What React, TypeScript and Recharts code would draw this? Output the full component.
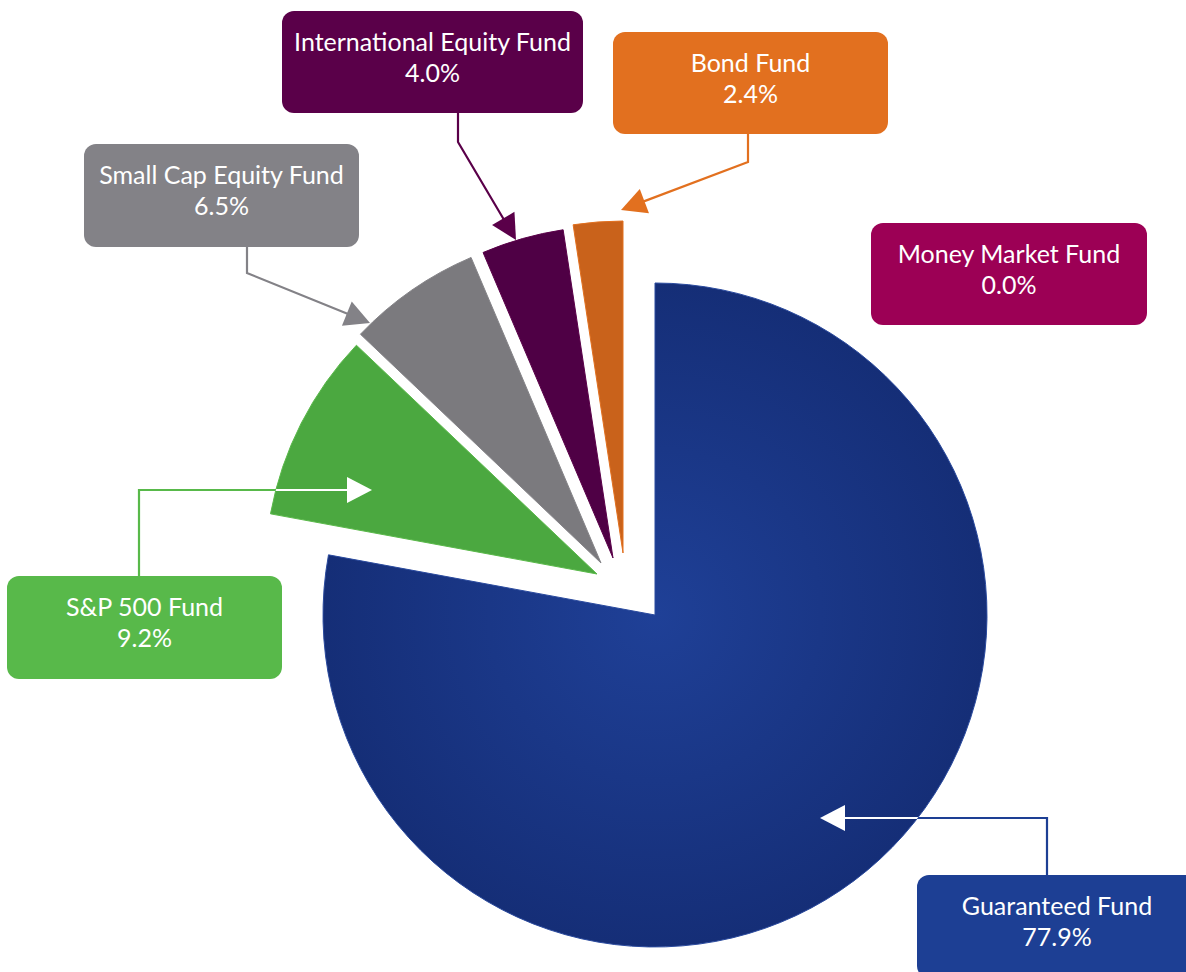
import React from 'react';
import { PieChart, Pie, Cell } from 'recharts';

// ---- data ----
const funds = [
  'Guaranteed Fund',
  'S&P 500 Fund',
  'Small Cap Equity Fund',
  'International Equity Fund',
  'Bond Fund',
  'Money Market Fund',
];
const allocations = [77.9, 9.2, 6.5, 4.0, 2.4, 0.0];

// ---- styles ----
const sliceColors = ['url(#guaranteedGrad)', '#4ba840', '#7b7a7e', '#4f0045', '#c9621b', '#9c0055'];
const sliceStrokes = ['#2a4a9e', '#5ab94a', '#858488', '#5a0049', '#e2701f', '#9c0055'];
const boxColors = ['#1d3f94', '#58b94a', '#838287', '#5a0049', '#e2701f', '#9c0055'];
const arrowColors = ['#ffffff', '#ffffff', '#838287', '#5a0049', '#e2701f', '#9c0055'];

const data = funds.map((name, i) => ({ name, value: allocations[i] }));

// ---- layout ----
const W = 1186;
const H = 972;
const CX = 655;
const CY = 615;
const R = 332;
const explode: [number, number][] = [
  [0, 0],
  [-58, -41],
  [-54, -52],
  [-42, -57],
  [-32, -62],
  [0, 0],
];
// label boxes: x, y, w, h
const boxes: [number, number, number, number][] = [
  [917, 875, 280, 103],
  [7, 576, 275, 103],
  [84, 144, 275, 103],
  [282, 11, 301, 102],
  [613, 32, 275, 102],
  [871, 223, 276, 102],
];
// connectors (last point = arrow tip); null = none
const connectors: ([number, number][] | null)[] = [
  [[1047, 875], [1047, 818], [820, 818]],
  [[139, 576], [139, 490], [372, 490]],
  [[247, 247], [247, 273], [370, 323]],
  [[458, 113], [458, 142], [516, 240]],
  [[748, 134], [748, 162], [621, 210]],
  null,
];
const clipWhite = [0, 1]; // connectors drawn white inside their slice

const FONT = 'Lato, "Open Sans", sans-serif';

function Arrow({ pts, color, clip }: { pts: [number, number][]; color: string; clip?: string }) {
  const n = pts.length;
  const [tx, ty] = pts[n - 1];
  const [px, py] = pts[n - 2];
  const len = Math.hypot(tx - px, ty - py);
  const ux = (tx - px) / len;
  const uy = (ty - py) / len;
  const L = 25;
  const hw = 13;
  const bx = tx - ux * L;
  const by = ty - uy * L;
  const p1 = `${bx - uy * hw},${by + ux * hw}`;
  const p2 = `${bx + uy * hw},${by - ux * hw}`;
  const linePts = [...pts.slice(0, n - 1), [bx + ux * 2, by + uy * 2]]
    .map((p) => p.join(','))
    .join(' ');
  return (
    <g clipPath={clip}>
      <polyline points={linePts} fill="none" stroke={color} strokeWidth={2.2} />
      <polygon points={`${tx},${ty} ${p1} ${p2}`} fill={color} />
    </g>
  );
}

function Annotations() {
  return (
    <svg
      width={W}
      height={H}
      style={{ position: 'absolute', left: 0, top: 0, pointerEvents: 'none' }}
    >
      <defs>
        <clipPath id="annClip0">
          <circle cx={CX + explode[0][0]} cy={CY + explode[0][1]} r={R} />
        </clipPath>
        <clipPath id="annClip1">
          <circle cx={CX + explode[1][0]} cy={CY + explode[1][1]} r={R} />
        </clipPath>
      </defs>
      {funds.map((name, i) => {
        const pts = connectors[i];
        if (!pts) return null;
        const white = clipWhite.includes(i);
        return (
          <g key={`c${i}`}>
            <Arrow pts={pts} color={white ? boxColors[i] : arrowColors[i]} />
            {white && <Arrow pts={pts} color="#ffffff" clip={`url(#annClip${i})`} />}
          </g>
        );
      })}
      {funds.map((name, i) => {
        const [x, y, w, h] = boxes[i];
        return (
          <g key={`b${i}`}>
            <rect x={x} y={y} width={w} height={h} rx={12} ry={12} fill={boxColors[i]} />
            <text
              x={x + w / 2}
              y={y + 40}
              textAnchor="middle"
              fill="#ffffff"
              fontFamily={FONT}
              fontSize={25}
            >
              {name}
            </text>
            <text
              x={x + w / 2}
              y={y + 71}
              textAnchor="middle"
              fill="#ffffff"
              fontFamily={FONT}
              fontSize={25}
            >
              {allocations[i].toFixed(1)}%
            </text>
          </g>
        );
      })}
    </svg>
  );
}

export default function App() {
  return (
    <div style={{ position: 'absolute', left: 0, top: 0, width: W, height: H, background: '#ffffff', overflow: 'hidden' }}>
      <PieChart width={W} height={H} margin={{ top: 0, right: 0, bottom: 0, left: 0 }}>
        <defs>
          <radialGradient id="guaranteedGrad" gradientUnits="userSpaceOnUse" cx={CX} cy={CY} r={R}>
            <stop offset="0%" stopColor="#1f4097" />
            <stop offset="100%" stopColor="#152e77" />
          </radialGradient>
        </defs>
        {funds.map((f, k) =>
          allocations[k] > 0 ? (
            <Pie
              key={f}
              data={data}
              dataKey="value"
              nameKey="name"
              cx={CX + explode[k][0]}
              cy={CY + explode[k][1]}
              innerRadius={0}
              outerRadius={R}
              startAngle={90}
              endAngle={-270}
              isAnimationActive={false}
              label={false}
              labelLine={false}
            >
              {data.map((d, i) => (
                <Cell
                  key={d.name}
                  fill={i === k ? sliceColors[i] : 'none'}
                  stroke={i === k ? sliceStrokes[i] : 'none'}
                  strokeWidth={i === k ? 1 : 0}
                />
              ))}
            </Pie>
          ) : null
        )}
      </PieChart>
      <Annotations />
    </div>
  );
}
